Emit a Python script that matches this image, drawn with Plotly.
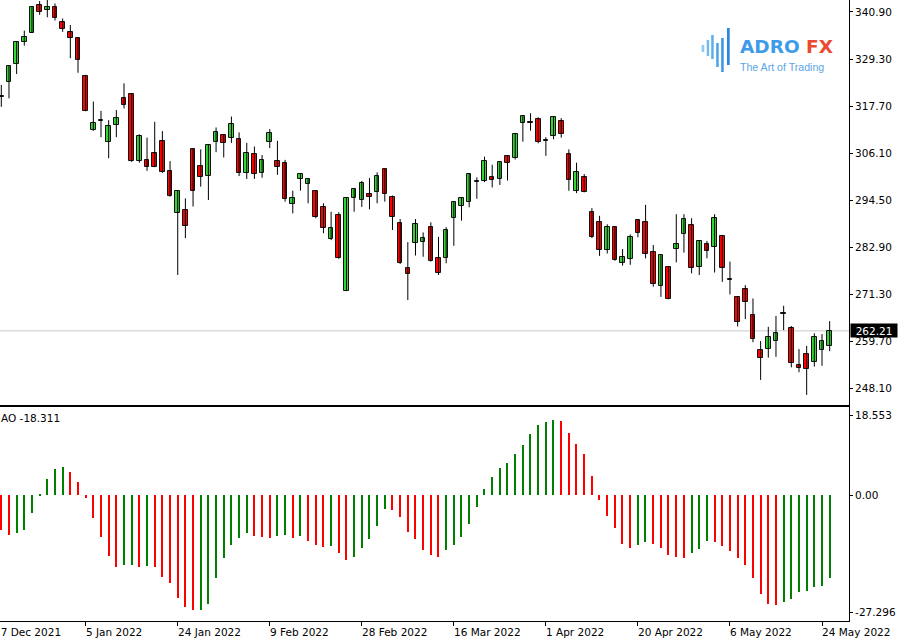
import plotly.graph_objects as go
import pandas as pd

# ---------------- data ----------------
holidays = ["2021-12-24", "2022-01-17", "2022-02-21", "2022-04-15"]
all_days = [d for d in pd.bdate_range("2021-12-17", "2022-05-25")
            if d.strftime("%Y-%m-%d") not in holidays]
dates = all_days[1:]  # Dec 20 2021 .. May 25 2022 (109 bars)

opens = [319.9, 323.7, 328.0, 333.4, 335.8, 342.6, 341.4, 342.2, 338.4, 336.0,
         334.6, 325.1, 311.8, 314.0, 308.9, 313.0, 319.6, 320.6, 304.2, 304.3,
         306.0, 309.0, 301.7, 291.2, 292.0, 307.1, 302.9, 300.5, 308.7, 310.5,
         309.7, 309.5, 301.1, 305.8, 301.2, 308.7, 304.1, 303.6, 293.4, 299.6,
         298.4, 296.8, 292.8, 284.9, 290.8, 272.1, 295.1, 294.5, 296.0, 296.6,
         302.2, 295.3, 288.8, 277.6, 284.0, 284.2, 287.8, 280.1, 280.1, 290.1,
         293.1, 293.9, 298.9, 299.2, 300.2, 299.6, 305.4, 304.9, 313.6, 313.6,
         314.5, 309.0, 310.3, 313.9, 305.8, 296.8, 300.2, 291.5, 289.0, 282.2,
         287.8, 278.9, 279.9, 289.6, 289.0, 281.6, 273.4, 278.0, 282.3, 286.0,
         288.3, 277.9, 283.6, 282.8, 285.6, 274.8, 270.5, 272.5, 266.1, 257.5,
         257.7, 259.7, 266.3, 262.8, 253.9, 256.5, 254.4, 257.5, 258.5]
highs = [322.9, 327.8, 333.5, 336.3, 342.3, 343.6, 343.9, 343.0, 339.3, 337.7,
         334.7, 325.4, 318.8, 316.5, 314.2, 316.7, 323.3, 320.7, 310.7, 309.9,
         313.8, 311.5, 304.1, 296.9, 294.9, 307.2, 307.0, 308.3, 312.4, 310.6,
         315.1, 311.2, 308.6, 307.7, 305.6, 312.0, 309.1, 304.4, 296.8, 300.9,
         299.8, 296.9, 293.7, 291.6, 291.5, 295.1, 297.4, 299.2, 299.9, 301.3,
         302.3, 295.6, 289.8, 284.1, 289.8, 286.5, 289.0, 285.4, 287.8, 294.0,
         295.0, 301.1, 300.1, 305.2, 303.2, 304.0, 305.6, 310.8, 315.4, 315.9,
         314.9, 310.0, 315.0, 314.7, 307.0, 303.7, 300.9, 292.5, 290.6, 288.5,
         287.9, 282.4, 286.0, 289.7, 293.3, 283.4, 281.0, 278.2, 291.0, 291.0,
         290.0, 284.6, 284.4, 291.0, 285.9, 279.3, 270.6, 273.5, 270.2, 259.7,
         263.2, 265.9, 268.4, 263.4, 257.7, 258.5, 261.6, 261.4, 264.6]
lows = [317.5, 319.6, 325.6, 332.6, 335.7, 340.2, 339.6, 338.8, 336.0, 329.5,
        325.9, 316.4, 311.6, 310.0, 304.8, 310.0, 317.1, 303.9, 303.7, 301.7,
        302.6, 301.2, 295.3, 276.0, 285.1, 292.9, 297.8, 294.5, 306.3, 305.0,
        308.6, 300.4, 299.7, 299.7, 300.0, 307.3, 300.7, 294.1, 291.2, 296.8,
        293.7, 290.0, 286.3, 284.6, 280.0, 272.0, 291.6, 292.8, 292.2, 293.7,
        294.1, 287.1, 278.7, 269.8, 280.8, 280.5, 279.3, 276.0, 278.9, 283.2,
        289.4, 292.7, 294.8, 298.9, 297.6, 298.2, 299.3, 304.5, 308.9, 311.6,
        308.5, 305.4, 309.5, 309.9, 296.8, 296.2, 296.4, 285.1, 280.7, 281.3,
        279.5, 278.3, 278.5, 285.3, 280.1, 273.1, 270.6, 270.0, 279.1, 281.5,
        276.4, 276.0, 280.1, 276.6, 274.3, 271.2, 263.3, 265.1, 259.4, 250.1,
        255.6, 255.8, 262.4, 253.2, 252.0, 246.4, 253.4, 253.6, 257.2]
closes = [320.0, 327.6, 333.4, 334.7, 342.2, 341.0, 342.2, 339.3, 336.6, 334.6,
          329.1, 316.5, 313.6, 314.2, 312.8, 314.7, 317.9, 304.1, 310.3, 302.6,
          302.7, 301.3, 295.6, 296.7, 288.2, 296.8, 300.1, 308.1, 311.2, 308.5,
          313.3, 301.2, 306.0, 300.8, 304.3, 311.0, 302.6, 294.8, 295.1, 300.8,
          299.7, 290.4, 287.5, 287.5, 280.1, 294.9, 297.2, 298.6, 295.3, 300.5,
          295.9, 290.2, 278.9, 276.2, 288.5, 285.2, 279.4, 276.4, 287.1, 293.9,
          294.9, 300.8, 299.1, 304.1, 299.4, 303.9, 303.6, 310.7, 315.2, 313.8,
          308.7, 309.2, 314.9, 310.7, 299.4, 301.3, 296.6, 285.3, 282.2, 287.8,
          279.7, 280.4, 285.4, 286.3, 281.1, 273.7, 280.9, 270.1, 283.6, 289.7,
          277.6, 284.5, 281.9, 290.0, 277.6, 275.0, 264.3, 269.3, 260.1, 255.6,
          260.8, 261.6, 266.5, 254.2, 253.0, 252.8, 260.6, 259.7, 262.21]

ao_values = [-8.15, -9.31, -8.92, -8.15, -4.27, 0.10, 3.72, 6.05, 6.44, 5.43,
             3.10, -0.62, -5.28, -9.70, -14.12, -16.68, -16.30, -16.22, -16.68, -16.53,
             -16.70, -19.01, -20.56, -23.90, -26.15, -26.77, -26.69, -25.45, -19.40, -14.74,
             -11.64, -10.09, -8.77, -9.47, -9.86, -9.93, -9.47, -9.39, -10.09, -9.47,
             -10.71, -11.64, -12.03, -11.80, -13.42, -15.21, -14.36, -12.26, -10.32, -7.22,
             -3.34, -3.41, -5.20, -8.54, -10.32, -12.80, -13.97, -14.36, -12.80, -11.64,
             -9.70, -6.75, -2.72, 1.32, 4.11, 6.21, 7.53, 9.54, 11.56, 14.20,
             16.30, 17.07, 17.46, 17.30, 14.36, 11.80, 9.54, 4.42, -1.16, -4.81,
             -7.76, -11.41, -12.26, -11.64, -10.86, -11.41, -12.26, -13.97, -14.51, -14.74,
             -13.58, -12.57, -10.63, -10.86, -11.80, -12.96, -14.74, -16.30, -19.40, -23.12,
             -25.45, -25.53, -24.83, -24.29, -22.50, -22.27, -21.34, -21.11, -19.40]

price_ticks = [340.90, 329.30, 317.70, 306.10, 294.50, 282.90, 271.30, 259.70, 248.10]
ao_ticks = [18.553, 0.0, -27.296]
ao_tick_text = ["18.553", "0.00", "-27.296"]
date_ticks = ["2021-12-17", "2022-01-05", "2022-01-24", "2022-02-09", "2022-02-28",
              "2022-03-16", "2022-04-01", "2022-04-20", "2022-05-06", "2022-05-24"]
last_price = 262.21
ao_label = "AO -18.311"

# ---------------- figure ----------------
FONT = "DejaVu Sans"
FS = 10.5
n = len(dates)
idx = list(range(n))
XR = [-0.17, 110.52]

def xfrac(i):
    return (i - XR[0]) / (XR[1] - XR[0])

fig = go.Figure()

# wicks
wx, wy = [], []
for i in idx:
    wx += [i, i, None]
    wy += [lows[i], highs[i], None]
fig.add_trace(go.Scatter(x=wx, y=wy, mode="lines", line=dict(color="black", width=1),
                         hoverinfo="skip", showlegend=False, xaxis="x", yaxis="y"))

# bodies
base = [min(o, c) for o, c in zip(opens, closes)]
height = [max(abs(c - o), 0.25) for o, c in zip(opens, closes)]
fill = ["#38d438" if c >= o else "#ff0000" for o, c in zip(opens, closes)]
fig.add_trace(go.Bar(x=idx, y=height, base=base, width=0.6,
                     marker=dict(color=fill, line=dict(color="#111111", width=1)),
                     showlegend=False, xaxis="x", yaxis="y"))

# AO histogram
ao_col = []
for i, v in enumerate(ao_values):
    if i == 0:
        ao_col.append("#ff0000")
    else:
        ao_col.append("#008000" if v > ao_values[i - 1] else "#ff0000")
fig.add_trace(go.Bar(x=idx, y=ao_values, width=0.16,
                     marker=dict(color=ao_col, line=dict(width=0)),
                     showlegend=False, xaxis="x2", yaxis="y2"))

H_PLOT = 621.0
W_PLOT = 849.0
main_bottom = 405.0
ao_top = 407.0

fig.update_layout(
    width=904, height=640, autosize=False,
    margin=dict(l=0, r=55, t=0, b=19, pad=0),
    paper_bgcolor="white", plot_bgcolor="white",
    font=dict(family=FONT, size=FS, color="black"),
    barmode="overlay", bargap=0,
    showlegend=False,
    xaxis=dict(domain=[0, 1], range=XR, anchor="y", showline=True, linecolor="black",
               linewidth=1, ticks="", showticklabels=False, showgrid=False, zeroline=False,
               matches="x2"),
    yaxis=dict(domain=[(H_PLOT - main_bottom) / H_PLOT, 1], range=[243.91, 343.86],
               side="right", anchor="x", showline=True, linecolor="black", linewidth=1,
               ticks="outside", ticklen=3, tickcolor="black",
               tickvals=price_ticks, ticktext=[f"{v:.2f}" for v in price_ticks],
               showgrid=False, zeroline=False, tickfont=dict(family=FONT, size=FS, color="black")),
    xaxis2=dict(domain=[0, 1], range=XR, anchor="y2", showline=True, mirror=True,
                linecolor="black", linewidth=1, ticks="outside", ticklen=4, tickcolor="black",
                tickvals=[], showticklabels=False, showgrid=False, zeroline=False),
    yaxis2=dict(domain=[0, (H_PLOT - ao_top) / H_PLOT], range=[-29.33, 20.49],
                side="right", anchor="x2", showline=True, linecolor="black", linewidth=1,
                ticks="outside", ticklen=3, tickcolor="black",
                tickvals=ao_ticks, ticktext=ao_tick_text,
                showgrid=False, zeroline=False, tickfont=dict(family=FONT, size=FS, color="black")),
)

# date tick positions (index in trading-day sequence, first bar = 0)
day_str = [d.strftime("%Y-%m-%d") for d in all_days]
tick_pos = [day_str.index(t) - 1 for t in date_ticks]
tick_txt = [f"{pd.Timestamp(t).day} {pd.Timestamp(t).strftime('%b %Y')}" for t in date_ticks]
fig.update_layout(xaxis2=dict(tickvals=[p for p in tick_pos if p >= XR[0]]))
for p, t in zip(tick_pos, tick_txt):
    fig.add_annotation(xref="paper", yref="paper", x=xfrac(p), y=0, xanchor="left",
                       yanchor="top", yshift=-3, xshift=-2, text=t, showarrow=False,
                       font=dict(family=FONT, size=FS, color="black"))

# current price line and tag
fig.add_shape(type="line", xref="paper", x0=0, x1=1, yref="y", y0=last_price, y1=last_price,
              line=dict(color="#c8c8c8", width=1), layer="below")
fig.add_annotation(xref="paper", yref="y", x=1, y=last_price, xanchor="left", yanchor="middle",
                   xshift=1, text=f"{last_price:.2f}", showarrow=False, bgcolor="black",
                   width=44, height=11, borderpad=1,
                   font=dict(family=FONT, size=FS, color="white"))

# AO label
fig.add_annotation(xref="paper", yref="paper", x=0, y=(H_PLOT - 418) / H_PLOT, xanchor="left",
                   yanchor="middle", xshift=-1, text=ao_label, showarrow=False,
                   font=dict(family=FONT, size=FS, color="black"))

# logo
def px(xp):
    return xp / W_PLOT

def py(yp):
    return (H_PLOT - yp) / H_PLOT

logo_bars = [(701.7, 704.3, 45, 52, "#8fc9f3"), (706.7, 709.2, 40, 56, "#74baf0"),
             (711.2, 713.7, 35, 59, "#5caeed"), (716.2, 718.7, 43, 67, "#4aa2e9"),
             (721.2, 723.7, 38, 72, "#3a95e4"), (727.0, 729.7, 28, 65, "#2b86dc")]
for x0, x1, y0, y1, c in logo_bars:
    fig.add_shape(type="rect", xref="paper", yref="paper", x0=px(x0), x1=px(x1),
                  y0=py(y1), y1=py(y0), fillcolor=c, line=dict(width=0))
fig.add_annotation(xref="paper", yref="paper", x=px(738), y=py(46.5), xanchor="left",
                   yanchor="middle", showarrow=False,
                   text="<span style='color:#3e9be8'>ADRO</span> <span style='color:#ea4a30'>FX</span>",
                   font=dict(family="DejaVu Sans", size=18.5, weight="bold"))
fig.add_annotation(xref="paper", yref="paper", x=px(738), y=py(67), xanchor="left",
                   yanchor="middle", showarrow=False, text="The Art of Trading",
                   font=dict(family="Liberation Sans", size=10.6, color="#5aa5e6"))

fig.write_html("out.html")
